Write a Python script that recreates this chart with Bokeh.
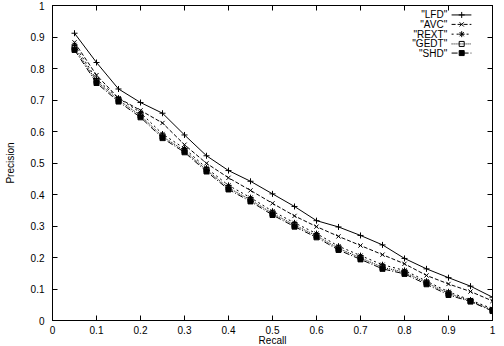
from bokeh.plotting import figure
from bokeh.models import LinearAxis, FixedTicker, Range1d, CustomJSTickFormatter
from bokeh.core.properties import value
from bokeh.embed import file_html
from bokeh.resources import INLINE

recall = [0.05, 0.10, 0.15, 0.20, 0.25, 0.30, 0.35, 0.40, 0.45, 0.50,
          0.55, 0.60, 0.65, 0.70, 0.75, 0.80, 0.85, 0.90, 0.95, 1.00]

lfd  = [0.912, 0.819, 0.735, 0.692, 0.658, 0.589, 0.523, 0.476, 0.442, 0.402,
        0.362, 0.317, 0.297, 0.270, 0.240, 0.197, 0.164, 0.136, 0.109, 0.074]
avc  = [0.883, 0.779, 0.706, 0.667, 0.627, 0.558, 0.499, 0.453, 0.413, 0.372,
        0.332, 0.298, 0.267, 0.238, 0.209, 0.180, 0.143, 0.116, 0.092, 0.062]
rext = [0.875, 0.766, 0.706, 0.660, 0.592, 0.546, 0.484, 0.429, 0.390, 0.347,
        0.310, 0.276, 0.236, 0.206, 0.177, 0.159, 0.125, 0.091, 0.065, 0.037]
gedt = [0.865, 0.760, 0.700, 0.651, 0.584, 0.539, 0.478, 0.421, 0.383, 0.340,
        0.303, 0.269, 0.229, 0.199, 0.169, 0.153, 0.120, 0.086, 0.062, 0.033]
shd  = [0.859, 0.754, 0.695, 0.645, 0.579, 0.534, 0.473, 0.416, 0.378, 0.335,
        0.298, 0.264, 0.224, 0.194, 0.164, 0.148, 0.115, 0.081, 0.060, 0.030]

series_names = ['"LFD"', '"AVC"', '"REXT"', '"GEDT"', '"SHD"']
series_vals = [lfd, avc, rext, gedt, shd]

x_ticks = [0, 0.1, 0.2, 0.3, 0.4, 0.5, 0.6, 0.7, 0.8, 0.9, 1]
x_tick_labels = ["0", "0.1", "0.2", "0.3", "0.4", "0.5", "0.6", "0.7", "0.8", "0.9", "1"]
y_ticks = [0, 0.1, 0.2, 0.3, 0.4, 0.5, 0.6, 0.7, 0.8, 0.9, 1]
y_tick_labels = ["0", "0.1", "0.2", "0.3", "0.4", "0.5", "0.6", "0.7", "0.8", "0.9", "1"]

x_title = "Recall"
y_title = "Precision"

FONT = "Liberation Sans"
styles = [
    dict(dash="solid", marker="cross", fill="black"),
    dict(dash="4 2", marker="x", fill="black"),
    dict(dash="2 3", marker="asterisk", fill="black"),
    dict(dash="1 1", marker="square", fill=None),
    dict(dash="6 2 1 2", marker="square", fill="black"),
]

p = figure(width=504, height=346, output_backend="svg", toolbar_location=None,
           x_range=Range1d(0, 1), y_range=Range1d(0, 1),
           min_border_left=52, min_border_right=12, min_border_top=5, min_border_bottom=26)
p.xgrid.visible = False
p.ygrid.visible = False
p.outline_line_color = "black"
p.outline_line_width = 1
p.background_fill_color = "white"
p.border_fill_color = "white"


def style_axis(ax, ticks, labels, show_labels=True):
    ax.ticker = FixedTicker(ticks=ticks)
    ax.major_tick_in = 5
    ax.major_tick_out = 0
    ax.minor_tick_line_color = None
    ax.axis_line_color = "black"
    ax.major_tick_line_color = "black"
    ax.major_label_text_font = FONT
    ax.major_label_text_font_size = "10px"
    ax.major_label_text_color = "black"
    ax.axis_label_text_font = FONT
    ax.axis_label_text_font_size = "10px"
    ax.axis_label_text_font_style = "normal"
    ax.axis_label_text_color = "black"
    if show_labels:
        ax.major_label_overrides = {t: l for t, l in zip(ticks, labels)}
    else:
        ax.formatter = CustomJSTickFormatter(code="return '';")
        ax.major_label_standoff = 0


style_axis(p.xaxis[0], x_ticks, x_tick_labels)
style_axis(p.yaxis[0], y_ticks, y_tick_labels)
p.yaxis[0].axis_label = y_title
p.xaxis[0].major_label_standoff = 5
p.yaxis[0].major_label_standoff = 8
p.yaxis[0].axis_label_standoff = 12

top = LinearAxis()
style_axis(top, x_ticks, x_tick_labels, show_labels=False)
p.add_layout(top, "above")
right = LinearAxis()
style_axis(right, y_ticks, y_tick_labels, show_labels=False)
p.add_layout(right, "right")

# x axis title near the bottom edge as in the reference
p.text(x=[0.5], y=[-0.0635], text=[x_title], text_align="center", text_baseline="middle",
       text_font=value(FONT), text_font_size="10px", text_color="black", level="overlay")

for vals, st in zip(series_vals, styles):
    p.line(recall, vals, line_color="black", line_width=1, line_dash=st["dash"])
    p.scatter(recall, vals, marker=st["marker"], size=6 if st["marker"] != "square" else 5,
              line_color="black", line_width=1, fill_color=st["fill"])

# legend (gnuplot style: label right-aligned, sample to the right)
leg_y = [0.970, 0.940, 0.909, 0.878, 0.849]
leg_x0, leg_x1, leg_xm, leg_xt = 0.907, 0.952, 0.930, 0.897
p.text(x=[leg_xt] * len(series_names), y=leg_y, text=series_names, text_align="right",
       text_baseline="middle", text_font=value(FONT), text_font_size="10px", text_color="black")
for st, yy in zip(styles, leg_y):
    p.line([leg_x0, leg_x1], [yy, yy], line_color="black", line_width=1, line_dash=st["dash"])
    p.scatter([leg_xm], [yy], marker=st["marker"], size=6 if st["marker"] != "square" else 5,
              line_color="black", line_width=1, fill_color=st["fill"])

open("out.html", "w").write(file_html(p, INLINE))
